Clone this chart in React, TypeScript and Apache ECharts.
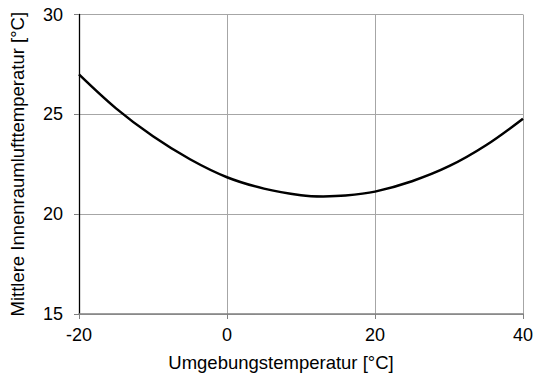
import React, { useEffect, useRef } from "react";
import * as echarts from "echarts";

const xValues = [-20, -15, -10, -5, 0, 5, 10, 13, 16, 20, 25, 30, 35, 40];
const yValues = [27.0, 25.3, 23.9, 22.75, 21.85, 21.28, 20.95, 20.89, 20.93, 21.13, 21.65, 22.4, 23.45, 24.78];
const xTitle = "Umgebungstemperatur [°C]";
const yTitle = "Mittlere Innenraumlufttemperatur [°C]";

export default function App() {
  const ref = useRef<HTMLDivElement>(null);
  useEffect(() => {
    document.body.style.margin = "0";
    const chart = echarts.init(ref.current!, null, { renderer: "svg" });
    const font = "Liberation Sans, Arial, sans-serif";
    chart.setOption({
      animation: false,
      backgroundColor: "#ffffff",
      grid: { left: 75, right: 10, top: 14.5, bottom: 60.5, containLabel: false },
      xAxis: {
        type: "value",
        min: -20,
        max: 40,
        interval: 20,
        name: xTitle,
        nameLocation: "middle",
        nameGap: 39,
        nameTextStyle: { fontFamily: font, fontSize: 18.5, color: "#000", padding: [0, 40, 0, 0] },
        axisLine: { show: true, onZero: false, lineStyle: { color: "#808080", width: 1.5 } },
        axisTick: { show: true, length: 5, lineStyle: { color: "#808080" } },
        axisLabel: { fontFamily: font, fontSize: 18, color: "#000", margin: 12 },
        splitLine: { show: true, lineStyle: { color: "#a6a6a6", width: 1 } },
      },
      yAxis: {
        type: "value",
        min: 15,
        max: 30,
        interval: 5,
        name: yTitle,
        nameLocation: "middle",
        nameGap: 52,
        nameTextStyle: { fontFamily: font, fontSize: 18.5, color: "#000" },
        axisLine: { show: true, onZero: false, lineStyle: { color: "#000", width: 1.3 } },
        axisTick: { show: true, length: 5, lineStyle: { color: "#808080" } },
        axisLabel: { fontFamily: font, fontSize: 18, color: "#000", margin: 16 },
        splitLine: { show: true, lineStyle: { color: "#a6a6a6", width: 1 } },
      },
      series: [
        {
          type: "line",
          data: xValues.map((x, i) => [x, yValues[i]]),
          smooth: 0.35,
          showSymbol: false,
          lineStyle: { color: "#000", width: 2.5 },
        },
      ],
    });
    return () => chart.dispose();
  }, []);
  return <div ref={ref} style={{ width: 536, height: 377 }} />;
}
